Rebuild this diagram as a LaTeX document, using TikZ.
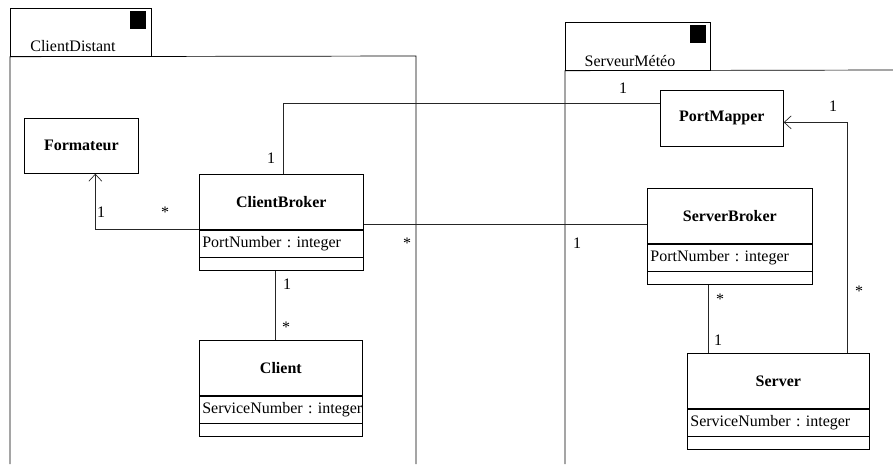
\documentclass[tikz,border=0pt]{standalone}
\usepackage{fontspec}
\setmainfont{Liberation Serif}
\usetikzlibrary{arrows.meta}
\frenchspacing

\tikzset{
  pkgline/.style={line width=0.7pt, black},
  pkgtab/.style={draw, line width=0.7pt, inner sep=0pt, anchor=north west},
  pkgmark/.style={fill=black, inner sep=0pt, minimum width=16pt, minimum height=18pt, anchor=north west},
  classname/.style={draw, line width=0.7pt, inner sep=0pt, minimum height=55pt, font=\fontsize{16}{19}\selectfont\bfseries, anchor=north west},
  classattr/.style={draw, line width=0.7pt, inner xsep=3pt, inner ysep=0pt, minimum height=27pt, align=left, anchor=north west},
  classops/.style={draw, line width=0.7pt, inner sep=0pt, minimum height=13pt, anchor=north west},
  mult/.style={inner sep=0pt},
  assoc/.style={line width=0.7pt, black!85},
  navig/.style={assoc, -{Straight Barb[length=7pt,width=13pt,line width=0.7pt]}},
}

% class box with name, one attribute and an empty operation part
\newcommand{\umlclass}[6]{%
  \node[classname, minimum width=#4pt] (#1) at (#2,#3) {#5};
  \node[classattr, text width=\dimexpr#4pt-6pt\relax] (#1attr) at (#1.south west) {\mbox{#6}};
  \node[classops, minimum width=#4pt] (#1ops) at (#1attr.south west) {};
  \draw[line width=2pt] (#1.south west) -- (#1.south east);
}

\begin{document}
\begin{tikzpicture}[x=1pt, y=-1pt, font=\fontsize{16}{19}\selectfont]
  \useasboundingbox (0,0) rectangle (893,464);

  % package ClientDistant
  \node[pkgtab, minimum width=141pt, minimum height=48pt] (cdtab) at (10,8) {};
  \node[pkgmark] (cdmark) at (130,11) {};
  \node[mult] (cdname) at (73,46) {ClientDistant};
  \draw[pkgline] (10,464) -- (cdtab.south west) -- (416,56) -- (416,464);

  % package ServeurMeteo
  \node[pkgtab, minimum width=145pt, minimum height=48pt] (smtab) at (565,22) {};
  \node[pkgmark] (smmark) at (690,25) {};
  \node[mult] (smname) at (630,61) {ServeurMétéo};
  \draw[pkgline] (565,464) -- (smtab.south west) -- (893,70);

  % classes
  \node[classname, minimum width=114pt] (fm) at (24,118) {Formateur};
  \node[classname, minimum width=123pt, minimum height=56pt] (pm) at (660,90) {PortMapper};
  \umlclass{cb}{199}{174}{164}{ClientBroker}{PortNumber : integer}
  \umlclass{cl}{199}{340}{163}{Client}{ServiceNumber : integer}
  \umlclass{sb}{647}{188}{165}{ServerBroker}{PortNumber : integer}
  \umlclass{sv}{687}{353}{182}{Server}{ServiceNumber : integer}

  % associations
  \draw[assoc] ([xshift=2pt]cb.north) |- ([yshift=15pt]pm.west);
  \draw[navig] (cb.south west) -| ([xshift=14pt]fm.south);
  \draw[assoc] ([yshift=-22pt]cb.east) -- ([yshift=-22pt]cb.east -| sb.west);
  \draw[assoc] ([xshift=-6pt]cbops.south) -- ([xshift=-6pt]cbops.south |- cl.north);
  \draw[assoc] ([xshift=-22pt]sbops.south) -- ([xshift=-22pt]sbops.south |- sv.north);
  \draw[navig] ([xshift=69pt]sv.north) |- ([yshift=-4pt]pm.east);

  % multiplicities
  \node[mult] (m1) at (271,158) {1};
  \node[mult] (m2) at (101,212) {1};
  \node[mult] (m3) at (165,212) {*};
  \node[mult] (m4) at (407,243) {*};
  \node[mult] (m5) at (577,243) {1};
  \node[mult] (m6) at (623,88) {1};
  \node[mult] (m7) at (833,106) {1};
  \node[mult] (m8) at (859,291) {*};
  \node[mult] (m9) at (720,299) {*};
  \node[mult] (m10) at (718,340) {1};
  \node[mult] (m11) at (287,284) {1};
  \node[mult] (m12) at (286,327) {*};
\end{tikzpicture}
\end{document}
